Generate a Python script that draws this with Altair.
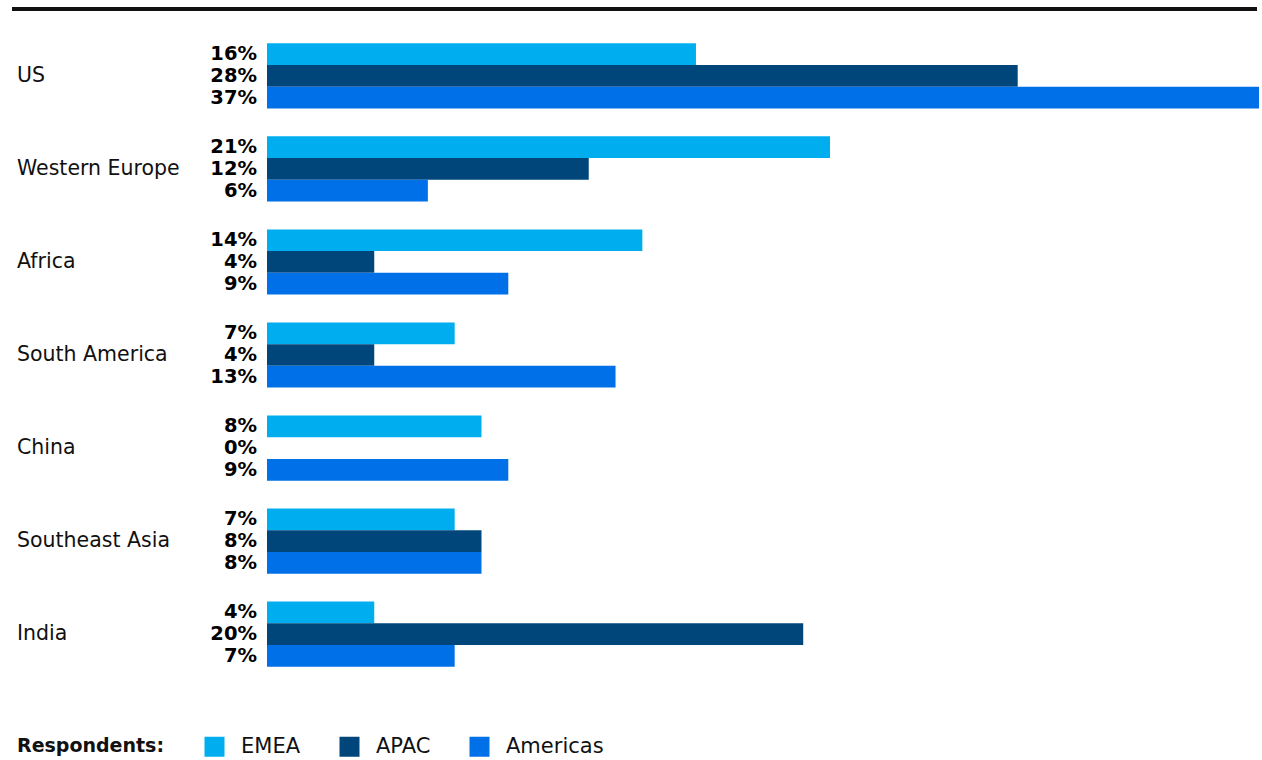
import altair as alt
import pandas as pd

regions = ["US", "Western Europe", "Africa", "South America", "China", "Southeast Asia", "India"]
series = ["EMEA", "APAC", "Americas"]
emea = [16, 21, 14, 7, 8, 7, 4]
apac = [28, 12, 4, 4, 0, 8, 20]
americas = [37, 6, 9, 13, 9, 8, 7]
colors = ["#00AEEF", "#00467A", "#0070E8"]

rows = []
for i, r in enumerate(regions):
    for s, vals in zip(series, [emea, apac, americas]):
        rows.append({"region": r, "respondent": s, "value": vals[i], "label": f"{vals[i]}%"})
df = pd.DataFrame(rows)
cats = pd.DataFrame({"region": regions})

FONT = "DejaVu Sans"

y_enc = alt.Y("region:N", sort=regions, axis=None,
              scale=alt.Scale(paddingInner=0.3, paddingOuter=0.25))
yoff = alt.YOffset("respondent:N", sort=series, scale=alt.Scale(domain=series, paddingInner=0, paddingOuter=0))

bars = alt.Chart(df).mark_bar().encode(
    x=alt.X("value:Q", axis=None, scale=alt.Scale(domain=[0, 37], nice=False, zero=True)),
    y=y_enc,
    yOffset=yoff,
    color=alt.Color("respondent:N", sort=series,
                    scale=alt.Scale(domain=series, range=colors),
                    legend=alt.Legend(
                        title="Respondents:", orient="none", legendX=-250, legendY=716,
                        direction="horizontal", titleOrient="left",
                        titleFont=FONT, titleFontSize=19, titleFontWeight="bold", titleColor="#111",
                        titlePadding=39, titleBaseline="middle",
                        labelFont=FONT, labelFontSize=21, labelColor="#111", labelOffset=16,
                        symbolType="square", symbolSize=400, symbolStrokeWidth=0, symbolOpacity=1,
                        columnPadding=38)),
)

vals = alt.Chart(df).mark_text(align="right", baseline="middle", font=FONT, fontSize=19.5,
                               fontWeight="bold", color="#000").encode(
    x=alt.value(-10),
    y=y_enc,
    yOffset=yoff,
    text="label:N",
)

catlabels = alt.Chart(cats).mark_text(align="left", baseline="middle", font=FONT,
                                      fontSize=20.5, color="#111").encode(
    x=alt.value(-250),
    y=alt.Y("region:N", sort=regions, axis=None,
            scale=alt.Scale(paddingInner=0.3, paddingOuter=0.25)),
    text="region:N",
)

topline = alt.Chart(cats).mark_rule(color="#111", strokeWidth=3).encode(
    x=alt.value(-255), x2=alt.value(990), y=alt.value(-11)
)

chart = alt.layer(bars, vals, catlabels, topline).properties(
    width=992, height=670,
    padding={"left": 267, "top": 20, "right": 3, "bottom": 70},
    autosize=alt.AutoSizeParams(type="none"),
).configure_view(stroke=None)

chart.save("out.html", embed_options={"renderer": "svg", "actions": False})
